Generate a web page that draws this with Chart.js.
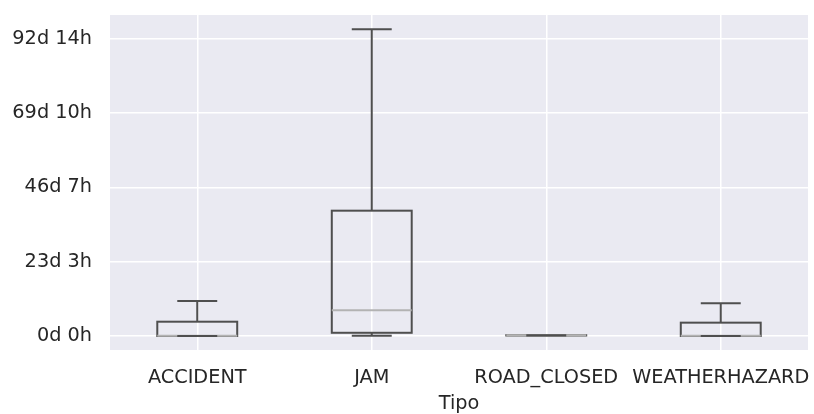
<!DOCTYPE html>
<html>
<head>
<meta charset="utf-8">
<script src="https://cdn.jsdelivr.net/npm/chart.js@4"></script>
<style>
  html, body { margin: 0; padding: 0; background: #ffffff; }
  #wrap { width: 814px; height: 414px; }
</style>
</head>
<body>
<div id="wrap"><canvas id="boxChart" width="814" height="414"></canvas></div>
<script>
// Duration per Tipo, in days
const categories = ["ACCIDENT", "JAM", "ROAD_CLOSED", "WEATHERHAZARD"];
const whiskerLow = [0, 0.05, 0.15, 0];
const q1Values = [0, 1.0, 0.15, 0];
const medianValues = [0.05, 8.0, 0.2, 0.05];
const q3Values = [4.45, 39.0, 0.25, 4.15];
const whiskerHigh = [10.9, 95.5, 0.25, 10.2];

const tickValues = [0, 23.146, 46.292, 69.4375, 92.583];
const tickLabels = ["0d 0h", "23d 3h", "46d 7h", "69d 10h", "92d 14h"];

const BOX_COLOR = "#4f4f4f";
const MEDIAN_COLOR = "#b3b3b3";
const TEXT_COLOR = "#262626";
const FONT = { family: "DejaVu Sans", size: 19.3 };

// Grey plot background
const plotBackground = {
  id: "plotBackground",
  beforeDraw(chart) {
    const { ctx, chartArea } = chart;
    ctx.save();
    ctx.fillStyle = "#eaeaf2";
    ctx.fillRect(chartArea.left, chartArea.top, chartArea.width, chartArea.height);
    ctx.restore();
  }
};

// Boxes, medians and whiskers drawn from the scales
const boxPlot = {
  id: "boxPlot",
  afterDatasetsDraw(chart) {
    const { ctx, scales } = chart;
    const x = scales.x;
    const y = scales.y;
    const step = x.getPixelForValue(1) - x.getPixelForValue(0);
    const half = step * 0.229;
    const capHalf = half / 2;

    ctx.save();
    ctx.lineWidth = 2;
    categories.forEach((cat, i) => {
      const cx = x.getPixelForValue(i);
      const yLow = y.getPixelForValue(whiskerLow[i]);
      const yQ1 = y.getPixelForValue(q1Values[i]);
      const yMed = y.getPixelForValue(medianValues[i]);
      const yQ3 = y.getPixelForValue(q3Values[i]);
      const yHigh = y.getPixelForValue(whiskerHigh[i]);

      // box
      ctx.strokeStyle = BOX_COLOR;
      ctx.strokeRect(cx - half, yQ3, half * 2, yQ1 - yQ3);

      // median
      ctx.strokeStyle = MEDIAN_COLOR;
      ctx.beginPath();
      ctx.moveTo(cx - half, yMed); ctx.lineTo(cx + half, yMed);
      ctx.stroke();

      // whiskers and caps
      ctx.strokeStyle = BOX_COLOR;
      ctx.beginPath();
      ctx.moveTo(cx, yQ3); ctx.lineTo(cx, yHigh);
      ctx.moveTo(cx, yQ1); ctx.lineTo(cx, yLow);
      ctx.moveTo(cx - capHalf, yHigh); ctx.lineTo(cx + capHalf, yHigh);
      ctx.moveTo(cx - capHalf, yLow); ctx.lineTo(cx + capHalf, yLow);
      ctx.stroke();
    });
    ctx.restore();
  }
};

new Chart(document.getElementById("boxChart"), {
  type: "bar",
  data: {
    labels: categories,
    datasets: [{ data: q3Values.map(() => null) }]
  },
  options: {
    responsive: false,
    animation: false,
    layout: { padding: { top: 15, right: 6, left: 0, bottom: 0 } },
    plugins: {
      legend: { display: false },
      tooltip: { enabled: false }
    },
    scales: {
      x: {
        type: "category",
        grid: { color: "#ffffff", lineWidth: 1.5, offset: false, drawTicks: false },
        border: { display: false },
        ticks: { color: TEXT_COLOR, font: FONT, padding: 16, maxRotation: 0, autoSkip: false },
        title: {
          display: true,
          text: "Tipo",
          color: TEXT_COLOR,
          font: FONT,
          padding: { top: 0, bottom: -2 }
        },
        afterFit(scale) {
          scale.height = 64;
          scale.paddingLeft = 0;
          scale.paddingRight = 0;
        }
      },
      y: {
        type: "linear",
        min: -4.357,
        max: 99.9,
        afterBuildTicks(scale) {
          scale.ticks = tickValues.map(v => ({ value: v }));
        },
        grid: { color: "#ffffff", lineWidth: 1.5, drawTicks: false },
        border: { display: false },
        ticks: {
          color: TEXT_COLOR,
          font: FONT,
          padding: 18,
          callback: (value, index) => tickLabels[index]
        },
        afterFit(scale) {
          scale.width = 110;
          scale.paddingTop = 0;
          scale.paddingBottom = 0;
        }
      }
    }
  },
  plugins: [plotBackground, boxPlot]
});
</script>
</body>
</html>
